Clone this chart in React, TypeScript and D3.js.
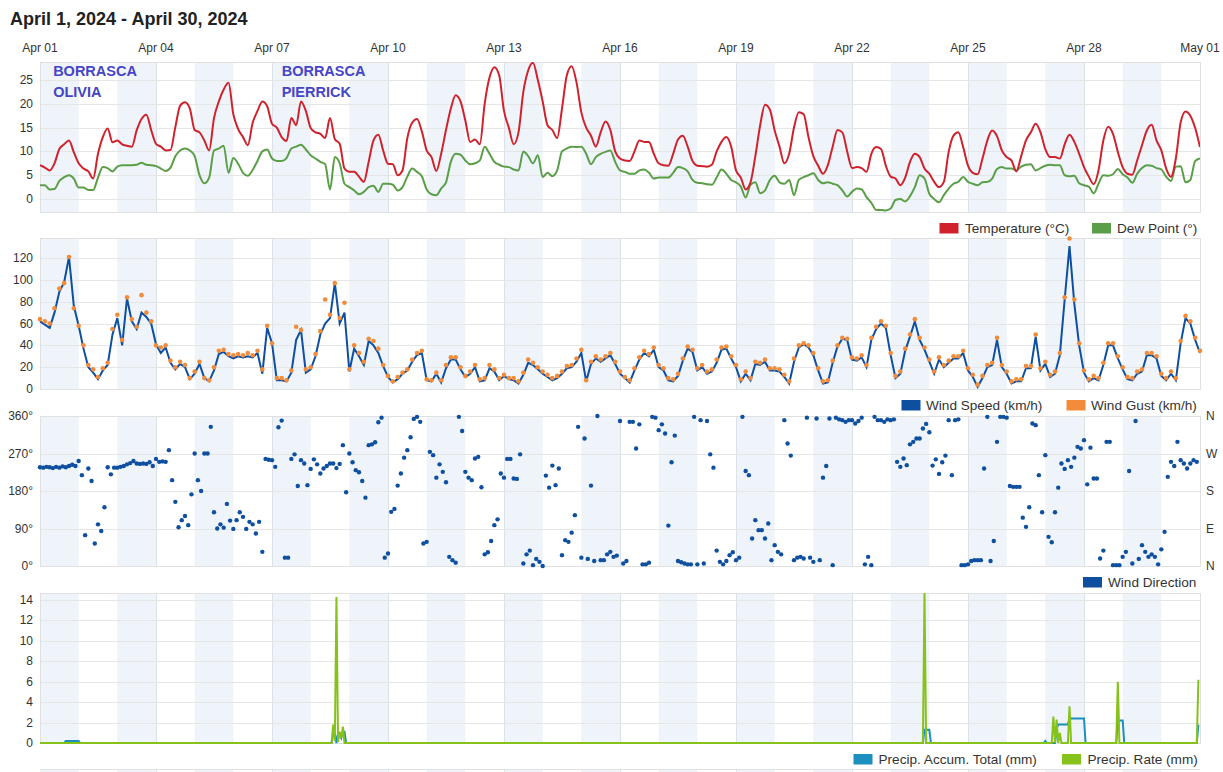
import React from "react";
import * as d3 from "d3";

// ---------- DATA ----------
const TITLE = "April 1, 2024 - April 30, 2024";
const xTickLabels = ["Apr 01", "Apr 04", "Apr 07", "Apr 10", "Apr 13", "Apr 16", "Apr 19", "Apr 22", "Apr 25", "Apr 28", "May 01"];
const annotations = [
  { lines: ["BORRASCA", "OLIVIA"], day: 0.34 },
  { lines: ["BORRASCA", "PIERRICK"], day: 6.25 },
];

// 3-hourly samples starting Apr 01 00:00 (8 per day) + final point
const temperature = [
  7.1, 6.6, 6.0, 7.5, 10.5, 11.5, 12.3, 9.8,
  7.5, 6.4, 5.8, 4.3, 9.5, 13.0, 14.8, 11.9,
  12.3, 11.5, 11.2, 11.0, 14.4, 16.8, 17.7, 14.5,
  11.6, 11.0, 10.2, 10.3, 15.1, 19.6, 20.3, 19.0,
  14.5, 14.0, 12.3, 10.2, 17.0, 20.5, 23.0, 24.4,
  17.8, 14.7, 13.0, 11.3, 16.0, 18.5, 20.5, 19.5,
  15.8, 15.0, 13.0, 12.2, 17.0, 15.5, 20.5, 18.5,
  14.9, 14.0, 13.7, 12.8, 17.0, 12.6, 11.6, 6.4,
  5.7, 5.7, 4.7, 3.6, 7.8, 12.3, 13.5, 10.2,
  7.4, 7.3, 5.0, 6.0, 12.8, 16.0, 16.8, 14.2,
  10.2, 8.8, 5.9, 9.5, 14.5, 19.0, 21.8, 20.5,
  16.5, 12.0, 12.5, 11.5, 20.0, 25.5, 27.7, 26.0,
  18.5, 15.0, 11.5, 14.0, 22.5, 27.0, 28.6, 25.0,
  20.5, 15.5, 14.5, 12.8, 19.0, 26.0, 27.9, 24.5,
  18.2, 15.0, 13.3, 11.0, 14.0, 16.3, 14.5, 10.0,
  8.5, 8.1, 8.0, 10.0, 12.3, 12.0, 12.0, 9.5,
  7.5, 7.1, 7.0, 9.5, 12.5, 13.3, 11.0, 8.0,
  7.0, 6.9, 6.8, 7.2, 10.0, 12.0, 13.0, 11.0,
  6.0, 4.5, 2.0, 3.5, 9.0, 15.5, 19.8, 18.8,
  14.4, 11.0, 7.5, 9.5, 15.0, 18.2, 17.8, 13.0,
  9.0, 7.0, 5.3, 7.1, 11.0, 14.5, 14.0, 10.0,
  6.5, 6.7, 6.5, 5.7, 9.5, 10.9, 10.5, 7.0,
  4.7, 4.3, 2.9, 4.5, 7.8, 9.5, 8.8, 6.4,
  5.3, 3.6, 2.5, 3.6, 9.9, 13.3, 14.0, 10.9,
  7.0, 5.5, 5.2, 8.5, 12.3, 14.4, 13.2, 10.2,
  8.8, 8.1, 5.8, 9.0, 12.3, 14.0, 15.8, 14.0,
  10.5, 8.8, 8.8, 8.5, 11.5, 13.5, 12.0, 9.5,
  6.7, 4.7, 3.1, 6.0, 12.3, 15.2, 13.7, 9.9,
  6.7, 5.3, 5.1, 8.1, 11.3, 14.4, 15.6, 12.3,
  10.2, 6.4, 4.7, 8.5, 16.1, 18.4, 17.5, 14.9,
  10.9,
];

const dewPoint = [
  2.9, 2.9, 2.0, 2.1, 3.8, 4.6, 5.0, 4.3,
  2.4, 2.4, 1.9, 1.9, 4.5, 6.7, 6.5, 5.8,
  6.8, 7.1, 7.1, 7.1, 7.2, 7.6, 7.2, 7.1,
  6.9, 6.4, 5.9, 6.6, 9.0, 10.2, 10.6, 10.2,
  9.0, 5.0, 3.3, 4.5, 10.2, 10.6, 11.2, 5.5,
  8.6, 7.4, 5.5, 4.9, 6.1, 8.0, 10.0, 10.4,
  8.5, 8.0, 8.0, 8.6, 10.6, 11.0, 11.4, 10.4,
  9.2, 8.5, 7.8, 7.3, 2.0, 8.8, 7.5, 3.2,
  2.5, 1.8, 1.0, 1.5, 2.5, 2.8, 1.5, 3.2,
  3.2, 3.0, 1.8, 2.5, 4.7, 6.4, 5.7, 4.8,
  2.0, 1.0, 0.8, 2.2, 3.5, 7.8, 9.5, 9.3,
  8.1, 7.3, 7.5, 8.1, 11.0, 9.5, 7.8, 7.2,
  6.8, 6.7, 6.2, 6.0, 10.0, 9.0, 7.5, 9.2,
  4.6, 5.5, 4.8, 6.0, 10.0, 10.6, 11.0, 10.9,
  11.0, 9.5, 7.3, 8.8, 9.5, 9.9, 10.2, 7.8,
  6.0, 5.7, 5.3, 5.3, 6.0, 6.2, 5.5, 4.3,
  4.5, 4.5, 4.5, 5.5, 6.7, 6.5, 5.8, 4.0,
  3.4, 3.3, 3.1, 3.0, 4.5, 6.2, 5.3, 4.0,
  3.5, 2.6, 0.3, 3.0, 3.5, 1.2, 1.8, 4.0,
  4.9, 3.5, 3.2, 4.0, 0.8, 4.0, 4.6, 5.0,
  5.4, 4.0, 3.3, 3.5, 3.2, 2.9, 1.8, 0.5,
  1.5, 2.2, 2.0, 0.4, -0.8, -2.3, -2.3, -2.4,
  -2.0, -0.2, 0.0, -0.5, 0.6, 2.5, 5.0, 4.3,
  1.1, 0.0, -0.7, 0.8, 2.2, 3.2, 3.6, 4.6,
  3.6, 3.2, 2.9, 3.5, 3.6, 4.3, 6.3, 6.7,
  6.4, 6.4, 6.0, 6.8, 7.2, 7.3, 6.0, 6.5,
  7.0, 7.2, 7.1, 7.1, 5.0, 4.8, 4.9, 3.3,
  2.9, 2.6, 1.2, 3.2, 5.0, 4.9, 5.2, 6.3,
  5.2, 4.5, 3.4, 5.3, 6.5, 7.1, 7.0, 6.5,
  6.2, 4.7, 3.8, 6.8, 6.9, 3.5, 4.0, 8.0,
  8.5,
];

const windSpeed = [
  62, 59, 56, 70, 89, 98, 121, 76,
  58, 37, 20, 15, 9, 17, 22, 50,
  65, 40, 83, 62, 55, 70, 66, 60,
  41, 33, 38, 24, 18, 23, 20, 9,
  14, 23, 10, 7, 17, 32, 34, 30,
  28, 30, 29, 30, 29, 33, 14, 56,
  42, 8, 8, 7, 15, 45, 54, 15,
  18, 30, 50, 60, 65, 97, 60, 70,
  16, 37, 30, 22, 44, 40, 33, 21,
  11, 6, 9, 14, 17, 25, 31, 33,
  8, 7, 14, 6, 19, 27, 27, 18,
  11, 14, 20, 7, 8, 19, 16, 8,
  12, 9, 8, 5, 13, 24, 22, 18,
  14, 11, 8, 10, 14, 19, 20, 25,
  33, 7, 23, 28, 25, 28, 31, 23,
  14, 10, 6, 17, 27, 33, 30, 36,
  20, 17, 8, 7, 12, 26, 37, 34,
  17, 20, 14, 16, 24, 36, 37, 28,
  20, 7, 14, 8, 23, 22, 25, 17,
  17, 16, 11, 5, 25, 38, 41, 38,
  31, 17, 5, 6, 24, 39, 46, 45,
  27, 26, 29, 20, 45, 55, 60, 56,
  31, 10, 14, 35, 48, 62, 45, 36,
  25, 14, 27, 20, 24, 28, 28, 33,
  17, 11, 2, 10, 20, 22, 45, 20,
  14, 5, 7, 7, 19, 19, 48, 17,
  23, 11, 14, 31, 82, 131, 78, 40,
  15, 7, 10, 8, 22, 40, 40, 28,
  18, 9, 8, 14, 16, 31, 31, 28,
  12, 8, 14, 8, 42, 65, 60, 45,
  33,
];

const windGust = [
  64, 62, 60, 74, 92, 97, 121, 74,
  58, 40, 22, 18, 11, 19, 24, 55,
  68, 45, 84, 64, 57, 86, 70, 62,
  40, 38, 40, 26, 20, 25, 22, 10,
  16, 25, 10, 8, 20, 35, 36, 32,
  31, 32, 31, 33, 31, 35, 18, 58,
  42, 10, 10, 8, 17, 57, 54, 18,
  20, 32, 53, 82, 68, 97, 65, 79,
  18, 40, 33, 25, 46, 44, 37, 22,
  12, 7, 11, 15, 18, 27, 33, 35,
  9, 8, 15, 8, 22, 29, 29, 20,
  12, 16, 22, 9, 10, 22, 18, 10,
  13, 10, 10, 7, 15, 27, 24, 20,
  16, 13, 10, 12, 16, 21, 22, 28,
  36, 8, 25, 30, 27, 30, 33, 25,
  16, 11, 8, 19, 29, 35, 32, 38,
  22, 19, 10, 9, 14, 28, 39, 36,
  19, 22, 16, 18, 27, 38, 39, 30,
  22, 9, 16, 10, 25, 24, 27, 19,
  19, 18, 13, 7, 28, 40, 42, 40,
  33, 19, 7, 8, 26, 40, 47, 46,
  29, 28, 31, 22, 47, 57, 62, 58,
  33, 12, 16, 37, 50, 64, 47, 38,
  27, 16, 29, 22, 26, 30, 30, 35,
  19, 13, 4, 12, 22, 24, 47, 22,
  16, 7, 9, 9, 21, 21, 50, 19,
  25, 13, 16, 33, 84, 138, 82, 42,
  17, 9, 12, 10, 24, 42, 42, 30,
  20, 11, 10, 16, 18, 33, 33, 30,
  14, 10, 16, 10, 44, 67, 62, 47,
  35,
];

// 2-hourly samples (12 per day), degrees
const windDirection = [
  237, 236, 238, 237, 235, 238, 236, 239, 237, 240, 243, 240,
  252, 218, 74, 234, 204, 54, 100, 84, 141, 237, 220, 236,
  236, 238, 240, 244, 247, 252, 246, 245, 246, 245, 249, 240,
  257, 250, 251, 250, 278, 206, 154, 93, 110, 120, 98, 172,
  270, 206, 180, 270, 270, 334, 129, 90, 100, 92, 149, 109,
  89, 110, 129, 118, 89, 106, 100, 78, 106, 34, 257, 255,
  254, 238, 333, 349, 20, 20, 257, 268, 192, 254, 246, 194,
  233, 256, 244, 222, 234, 240, 246, 246, 235, 245, 290, 177,
  270, 249, 230, 225, 204, 164, 290, 292, 297, 345, 356, 20,
  30, 130, 137, 193, 222, 260, 278, 309, 353, 358, 346, 54,
  58, 274, 266, 212, 244, 226, 201, 22, 14, 8, 358, 324,
  226, 212, 206, 258, 262, 189, 28, 33, 60, 98, 112, 222,
  212, 257, 257, 210, 209, 268, 6, 28, 37, 2, 17, 10,
  0, 217, 188, 241, 194, 234, 26, 62, 58, 80, 122, 334,
  20, 306, 17, 193, 12, 360, 14, 14, 28, 34, 22, 25,
  348, 6, 12, 346, 346, 282, 340, 4, 4, 8, 358, 356,
  326, 340, 318, 97, 249, 313, 12, 9, 6, 4, 4, 358,
  4, 350, 6, 348, 268, 236, 37, 10, 4, 12, 26, 33,
  14, 20, 358, 228, 218, 66, 110, 86, 86, 66, 102, 14,
  50, 34, 28, 350, 294, 265, 14, 20, 22, 18, 356, 20,
  10, 354, 14, 212, 240, 354, 2, 356, 352, 350, 346, 350,
  350, 342, 348, 356, 4, 22, 2, 358, 350, 350, 346, 352,
  350, 352, 250, 238, 258, 242, 292, 298, 306, 306, 330, 341,
  321, 241, 256, 221, 249, 265, 350, 218, 350, 352, 2, 2,
  4, 12, 14, 14, 14, 234, 358, 12, 60, 298, 358, 358,
  356, 192, 190, 190, 190, 116, 94, 141, 342, 338, 218, 129,
  266, 70, 57, 129, 188, 246, 233, 254, 238, 260, 286, 282,
  302, 196, 284, 210, 210, 18, 37, 298, 298, 2, 2, 2,
  22, 34, 228, 6, 348, 17, 50, 34, 22, 28, 22, 4,
  40, 82, 214, 250, 240, 298, 254, 246, 234, 246, 254, 250,
];

// Hourly precipitation: [hour since Apr 01 00:00, value]; all other hours are 0
const precipRateHours: [number, number][] = [
  [182, 1.8], [183, 0.2], [184, 14.3], [185, 0.1], [186, 1.1], [187, 0.5], [188, 1.6],
  [549, 14.7],
  [629, 2.6], [631, 2.3], [633, 1.0], [639, 3.6],
  [669, 6.0],
  [719, 6.2],
];
const precipAccumHours: [number, number][] = [
  [16, 0.2], [17, 0.2], [18, 0.2], [19, 0.2], [20, 0.2], [21, 0.2], [22, 0.2], [23, 0.2], [24, 0.2],
  [182, 1.0], [183, 0.9], [185, 1.0], [186, 0.9], [187, 0.5], [188, 1.1], [189, 1.1],
  [549, 1.3], [550, 1.3], [551, 1.3], [552, 1.3],
  [624, 0.2],
  [631, 1.4], [632, 1.8], [633, 1.8], [634, 1.8], [635, 1.8], [636, 1.8], [637, 1.8], [638, 1.8],
  [639, 2.4], [640, 2.4], [641, 2.4], [642, 2.4], [643, 2.4], [644, 2.4], [645, 2.4], [646, 2.4], [647, 2.4], [648, 2.4],
  [669, 2.2], [670, 2.2], [671, 2.2], [672, 2.2],
  [719, 1.8],
];

const tempTicks = [0, 5, 10, 15, 20, 25];
const windTicks = [0, 20, 40, 60, 80, 100, 120];
const dirTicks = [0, 90, 180, 270, 360];
const dirTickLabels = ["0°", "90°", "180°", "270°", "360°"];
const compassLabels = ["N", "E", "S", "W", "N"];
const precipTicks = [0, 2, 4, 6, 8, 10, 12, 14];

// ---------- LAYOUT / STYLE ----------
const FONT = "'Liberation Sans', Arial, Helvetica, sans-serif";
const X0 = 40;
const X1 = 1200;
const HOUR = 3600 * 1000;
const START = Date.UTC(2024, 3, 1);
const END = Date.UTC(2024, 4, 1);

const C = {
  temp: "#d0222c",
  dew: "#5a9e48",
  speed: "#0e4fa0",
  gust: "#f38c3a",
  dir: "#0e4fa0",
  accum: "#1b8fbd",
  rate: "#86c21a",
  band: "#eef4fa",
  grid: "#e6e6e6",
  vgrid: "#dde2e8",
  frame: "#e0e0e0",
  text: "#333333",
  annot: "#4545c6",
};

const x = d3.scaleUtc().domain([new Date(START), new Date(END)]).range([X0, X1]);
const t3 = (i: number) => new Date(START + i * 3 * HOUR);
const t2 = (i: number) => new Date(START + i * 2 * HOUR);
const t1 = (i: number) => new Date(START + i * HOUR);

function hourly(events: [number, number][]): number[] {
  const arr = new Array(720).fill(0);
  events.forEach(([h, v]) => (arr[h] = v));
  return arr;
}

type PanelProps = {
  top: number;
  bottom: number;
  y: d3.ScaleLinear<number, number>;
  ticks: number[];
  tickLabels?: string[];
  rightLabels?: string[];
  children?: React.ReactNode;
};

function Background({ top, bottom }: { top: number; bottom: number }) {
  const bands = d3.range(0, 30, 2);
  const vlines = d3.range(3, 30, 3);
  return (
    <g>
      {bands.map((d) => (
        <rect
          key={d}
          x={x(new Date(START + d * 24 * HOUR))}
          y={top}
          width={x(new Date(START + (d + 1) * 24 * HOUR)) - x(new Date(START + d * 24 * HOUR))}
          height={bottom - top}
          fill={C.band}
        />
      ))}
      {vlines.map((d) => {
        const xx = Math.round(x(new Date(START + d * 24 * HOUR))) + 0.5;
        return <line key={d} x1={xx} x2={xx} y1={top} y2={bottom} stroke={C.vgrid} strokeWidth={1} />;
      })}
    </g>
  );
}

function Panel({ top, bottom, y, ticks, tickLabels, rightLabels, children }: PanelProps) {
  return (
    <g>
      <Background top={top} bottom={bottom} />
      {ticks.map((v) => {
        const yy = Math.round(y(v)) + 0.5;
        return <line key={v} x1={X0} x2={X1} y1={yy} y2={yy} stroke={C.grid} strokeWidth={1} />;
      })}
      <rect x={X0 + 0.5} y={top + 0.5} width={X1 - X0} height={bottom - top} fill="none" stroke={C.frame} />
      {ticks.map((v, i) => (
        <text key={"l" + v} x={33} y={y(v) + 4} textAnchor="end" fontSize={12} fill={C.text} fontFamily={FONT}>
          {tickLabels ? tickLabels[i] : v}
        </text>
      ))}
      {rightLabels &&
        ticks.map((v, i) => (
          <text key={"r" + v} x={1206} y={y(v) + 4} fontSize={12} fill={C.text} fontFamily={FONT}>
            {rightLabels[i]}
          </text>
        ))}
      {children}
    </g>
  );
}

type LegendItem = { label: string; color: string; rx: number; tx: number };
function Legend({ items, y }: { items: LegendItem[]; y: number }) {
  return (
    <g>
      {items.map((it) => (
        <g key={it.label}>
          <rect x={it.rx} y={y - 10} width={19} height={10.5} fill={it.color} />
          <text x={it.tx} y={y} fontSize={13.6} fill={C.text} fontFamily={FONT}>
            {it.label}
          </text>
        </g>
      ))}
    </g>
  );
}

export default function App() {
  // Panel scales
  const yTemp = d3.scaleLinear().domain([-2.73, 28.78]).range([212, 62]);
  const yWind = d3.scaleLinear().domain([0, 138.4]).range([389, 238]);
  const yDir = d3.scaleLinear().domain([0, 360]).range([566, 416]);
  const yPre = d3.scaleLinear().domain([0, 14.69]).range([743, 593]);

  const lineTemp = d3.line<number>().x((_, i) => x(t3(i))).y((d) => yTemp(d)).curve(d3.curveMonotoneX);
  const lineWind = d3.line<number>().x((_, i) => x(t3(i))).y((d) => yWind(d));
  const linePre = d3.line<number>().x((_, i) => x(t1(i))).y((d) => yPre(d));

  const rate = hourly(precipRateHours);
  const accum = hourly(precipAccumHours);

  return (
    <svg
      width={1223}
      height={772}
      viewBox="0 0 1223 772"
      style={{ position: "absolute", left: 0, top: 0, background: "#fff" }}
    >
      <text x={10} y={24.5} fontSize={18} fontWeight="bold" fill="#222" fontFamily={FONT}>
        {TITLE}
      </text>

      {xTickLabels.map((lab, i) => (
        <text
          key={lab}
          x={x(new Date(START + i * 3 * 24 * HOUR))}
          y={51.5}
          textAnchor="middle"
          fontSize={12}
          fill={C.text}
          fontFamily={FONT}
        >
          {lab}
        </text>
      ))}

      {/* Panel 1: temperature & dew point */}
      <Panel top={62} bottom={212} y={yTemp} ticks={tempTicks}>
        <defs>
          <clipPath id="clip1">
            <rect x={X0} y={62} width={X1 - X0} height={150} />
          </clipPath>
        </defs>
        <g clipPath="url(#clip1)">
          <path d={lineTemp(dewPoint) || ""} fill="none" stroke={C.dew} strokeWidth={2} />
          <path d={lineTemp(temperature) || ""} fill="none" stroke={C.temp} strokeWidth={2} />
        </g>
        {annotations.map((a) =>
          a.lines.map((ln, j) => (
            <text
              key={a.day + ln}
              x={x(new Date(START + a.day * 24 * HOUR))}
              y={76 + j * 21}
              fontSize={14.5}
              fontWeight="bold"
              fill={C.annot}
              fontFamily={FONT}
            >
              {ln}
            </text>
          ))
        )}
      </Panel>
      <Legend
        y={233}
        items={[
          { label: "Temperature (°C)", color: C.temp, rx: 939.5, tx: 965 },
          { label: "Dew Point (°)", color: C.dew, rx: 1092, tx: 1117 },
        ]}
      />

      {/* Panel 2: wind speed & gust */}
      <Panel top={238} bottom={389} y={yWind} ticks={windTicks}>
        <path d={lineWind(windSpeed) || ""} fill="none" stroke={C.speed} strokeWidth={2} />
        {windGust.map((g, i) => (
          <circle key={i} cx={x(t3(i))} cy={yWind(g)} r={2.3} fill={C.gust} />
        ))}
      </Panel>
      <Legend
        y={410}
        items={[
          { label: "Wind Speed (km/h)", color: C.speed, rx: 901.5, tx: 926 },
          { label: "Wind Gust (km/h)", color: C.gust, rx: 1066.5, tx: 1091 },
        ]}
      />

      {/* Panel 3: wind direction */}
      <Panel top={416} bottom={566} y={yDir} ticks={dirTicks} tickLabels={dirTickLabels} rightLabels={compassLabels}>
        {windDirection.map((d, i) => (
          <circle key={i} cx={x(t2(i))} cy={yDir(d)} r={2.2} fill={C.dir} />
        ))}
      </Panel>
      <Legend y={587} items={[{ label: "Wind Direction", color: C.dir, rx: 1083, tx: 1108 }]} />

      {/* Panel 4: precipitation */}
      <Panel top={593} bottom={743} y={yPre} ticks={precipTicks}>
        <path d={linePre(accum) || ""} fill="none" stroke={C.accum} strokeWidth={2} />
        <path d={linePre(rate) || ""} fill="none" stroke={C.rate} strokeWidth={2} />
      </Panel>
      <Legend
        y={764}
        items={[
          { label: "Precip. Accum. Total (mm)", color: C.accum, rx: 853.5, tx: 878.5 },
          { label: "Precip. Rate (mm)", color: C.rate, rx: 1062, tx: 1087.5 },
        ]}
      />

      {/* top edge of the next (cut-off) panel */}
      <Background top={769} bottom={772} />
      <line x1={X0} x2={X1} y1={769.5} y2={769.5} stroke={C.frame} />
    </svg>
  );
}
